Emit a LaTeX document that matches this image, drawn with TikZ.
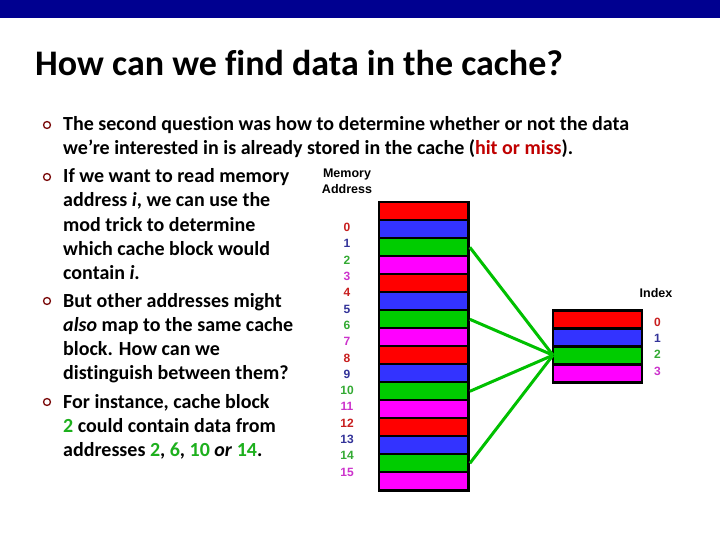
\documentclass[tikz,border=0pt]{standalone}
\usepackage{fontspec}
\setmainfont{Carlito}[Ligatures=NoCommon]
\newfontfamily\arialf{Liberation Sans}
\definecolor{barblue}{HTML}{000090}
\definecolor{cred}{HTML}{FF0000}
\definecolor{cblue}{HTML}{3333FF}
\definecolor{cgreen}{HTML}{00CC00}
\definecolor{cmag}{HTML}{FF00FF}
\definecolor{nred}{HTML}{C81E1E}
\definecolor{nblue}{HTML}{333399}
\definecolor{ngreen}{HTML}{33AA33}
\definecolor{nmag}{HTML}{CC33CC}
\definecolor{hitred}{HTML}{C00000}
\definecolor{txtgreen}{HTML}{1DB01D}
\definecolor{bulletred}{HTML}{7A0A0A}
\definecolor{linegreen}{HTML}{00C000}
\tikzset{
  bodyline/.style={anchor=base west, inner sep=0pt, font=\fontsize{20}{22}\selectfont\bfseries},
  bulletmark/.style={circle, draw=bulletred, line width=1.3pt, minimum size=7pt, inner sep=0pt},
  memcell/.style={rectangle, inner sep=0pt, minimum width=86.7pt, minimum height=16pt},
  cachecell/.style={rectangle, inner sep=0pt, minimum width=86.7pt, minimum height=15pt},
  numlabel/.style={inner sep=0pt, font=\arialf\fontsize{12}{12}\selectfont\bfseries},
  headlabel/.style={inner sep=0pt, align=center, font=\arialf\fontsize{12.5}{16}\selectfont\bfseries},
  mapline/.style={draw=linegreen, line width=3pt},
}
\begin{document}
\begin{tikzpicture}[x=1pt,y=-1pt]
\useasboundingbox (0,0) rectangle (720,540);
\fill[white] (0,0) rectangle (720,540);
\fill[barblue] (0,0) rectangle (720,18);
% title
\node[anchor=base west, inner sep=0pt, font=\fontsize{36}{40}\selectfont\bfseries] (title) at (35,76) {How can we find data in the cache?};
% bullets
\node[bulletmark] (b1) at (47,125) {};
\node[bulletmark] (b2) at (47,177) {};
\node[bulletmark] (b3) at (47,301) {};
\node[bulletmark] (b4) at (47,402) {};
\node[bodyline] (l1) at (63,131) {The second question was how to determine whether or not the data};
\node[bodyline] (l2) at (63,155) {we’re interested in is already stored in the cache (\textcolor{hitred}{hit or miss}).};
\node[bodyline] (l3) at (63,183) {If we want to read memory};
\node[bodyline] (l4) at (63,207) {address \textit{i}, we can use the};
\node[bodyline] (l5) at (63,231) {mod trick to determine};
\node[bodyline] (l6) at (63,255) {which cache block would};
\node[bodyline] (l7) at (63,279) {contain \textit{i}.};
\node[bodyline] (l8) at (63,307) {But other addresses might};
\node[bodyline] (l9) at (63,331) {\textit{also} map to the same cache};
\node[bodyline] (l10) at (63,355) {block. How can we};
\node[bodyline] (l11) at (63,379) {distinguish between them?};
\node[bodyline] (l12) at (63,408) {For instance, cache block};
\node[bodyline] (l13) at (63,432) {\textcolor{txtgreen}{2} could contain data from};
\node[bodyline] (l14) at (63,456) {addresses \textcolor{txtgreen}{2}, \textcolor{txtgreen}{6}, \textcolor{txtgreen}{10} \textit{or} \textcolor{txtgreen}{14}.};
% memory column
\node[headlabel] (memhead) at (347,181) {Memory\\Address};
\fill[black] (377.7,201) rectangle (470,491.5);
\foreach \i/\c in {0/cred,1/cblue,2/cgreen,3/cmag,4/cred,5/cblue,6/cgreen,7/cmag,8/cred,9/cblue,10/cgreen,11/cmag,12/cred,13/cblue,14/cgreen,15/cmag}{
  \node[memcell, fill=\c] (m\i) at (423.3,{211.3+18*\i}) {};
}
\foreach \i/\c in {0/nred,1/nblue,2/ngreen,3/nmag,4/nred,5/nblue,6/ngreen,7/nmag,8/nred,9/nblue,10/ngreen,11/nmag,12/nred,13/nblue,14/ngreen,15/nmag}{
  \node[numlabel, text=\c] (a\i) at (347,{227.5+16.3*\i}) {\i};
}
% cache column
\node[headlabel] (idxhead) at (656,293) {Index};
\fill[black] (551.7,309.3) rectangle (643,383.5);
\foreach \i/\c in {0/cred,1/cblue,2/cgreen,3/cmag}{
  \node[cachecell, fill=\c] (c\i) at (597.3,{319.2+18*\i}) {};
}
\foreach \i/\c in {0/nred,1/nblue,2/ngreen,3/nmag}{
  \node[numlabel, text=\c] (x\i) at (657.5,{322+16.4*\i}) {\i};
}
% mapping lines
\coordinate (target) at (553,355.2);
\foreach \i in {2,6,10,14}{
  \draw[mapline] ([xshift=3pt]m\i.east) -- (target);
}
\end{tikzpicture}
\end{document}
